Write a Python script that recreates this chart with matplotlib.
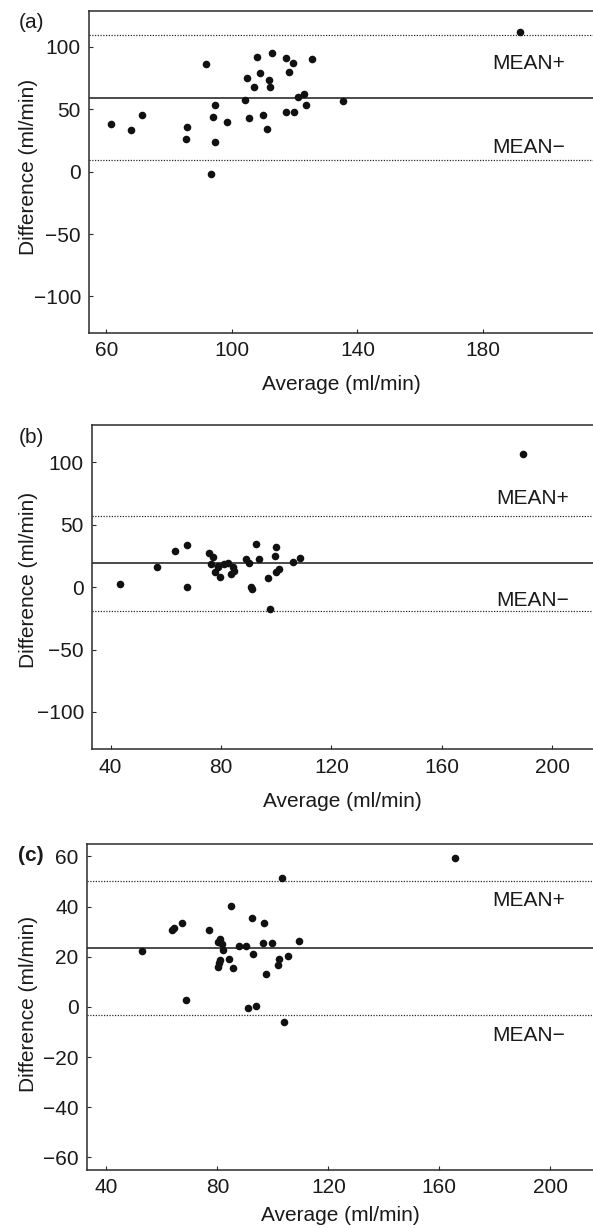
"""
Bland-Altman plots for three flow measurement comparisons.
Saves out.png (593x1228 px).
"""

import matplotlib.pyplot as plt

plt.rcParams["font.family"] = ["Liberation Sans", "DejaVu Sans"]

# ── Data ─────────────────────────────────────────────────────
# (a)
a_avg = [61.4, 68.0, 71.4, 85.3, 85.8, 91.9, 93.3, 93.9, 94.5, 94.7, 98.3,
         104.2, 104.8, 105.5, 107.0, 108.1, 109.0, 109.8, 111.2, 111.8, 112.2,
         112.7, 117.1, 117.2, 118.1, 119.5, 119.8, 121.2, 122.9, 123.5, 125.5,
         135.3, 191.9]
a_diff = [38.0, 33.7, 45.2, 26.2, 35.8, 86.1, -1.9, 44.1, 53.7, 23.5, 39.8,
          57.8, 74.9, 43.0, 68.2, 92.2, 79.1, 45.2, 34.5, 73.3, 67.6,
          94.9, 91.2, 48.1, 79.7, 87.2, 47.9, 60.2, 62.3, 53.7, 90.4,
          56.4, 112.0]
a_mean, a_lo, a_hi = 59.3, 9.1, 109.6

# (b)
b_avg = [43.4, 57.0, 63.2, 67.7, 67.7, 75.5, 77.1, 76.5, 77.9, 79.1, 79.5,
         79.0, 81.2, 82.4, 83.6, 84.2, 84.8, 89.2, 90.0, 91.0, 91.2, 92.7,
         93.9, 96.9, 97.9, 99.6, 99.9, 99.9, 100.9, 106.0, 108.5, 189.4]
b_diff = [2.4, 16.3, 28.6, 33.6, 0.5, 27.2, 24.0, 18.4, 12.5, 17.1, 8.5,
          16.0, 18.4, 19.2, 10.7, 16.0, 13.3, 22.4, 19.2, 0.3, -1.6, 34.7,
          22.4, 7.7, -17.8, 25.1, 32.0, 12.5, 14.7, 20.0, 23.5, 106.5]
b_mean, b_lo, b_hi = 19.3, -19.2, 57.4

# (c)
c_avg = [52.7, 63.5, 64.2, 67.2, 68.7, 76.8, 80.1, 80.8, 81.7, 82.2, 80.3,
         80.6, 80.8, 84.3, 84.9, 85.5, 87.9, 90.2, 91.0, 92.6, 92.7, 93.9,
         96.5, 96.9, 97.4, 99.6, 101.7, 102.2, 103.4, 103.9, 105.6, 109.5,
         165.5]
c_diff = [22.1, 30.6, 31.5, 33.4, 2.8, 30.7, 26.0, 27.1, 25.1, 22.7, 15.8,
          17.4, 18.7, 19.1, 40.4, 15.4, 24.4, 24.4, -0.6, 35.3, 21.0, 0.5,
          25.6, 33.4, 13.3, 25.6, 16.5, 19.0, 51.2, -5.9, 20.3, 26.4,
          59.3]
c_mean, c_lo, c_hi = 23.4, -3.3, 50.1

panels = [
    ("(a)", "normal", a_avg, a_diff, a_mean, a_lo, a_hi,
     (54.6, 215.0), (-129, 129), [60, 100, 140, 180], [-100, -50, 0, 50, 100],
     [0.1506, 0.7291, 0.8494, 0.2622], 183.0, 87.0, 19.3, 11, (-0.102, 0.515)),
    ("(b)", "normal", b_avg, b_diff, b_mean, b_lo, b_hi,
     (33.4, 214.8), (-130, 130), [40, 80, 120, 160, 200], [-100, -50, 0, 50, 100],
     [0.1557, 0.3898, 0.8443, 0.2641], 179.6, 70.7, -10.9, 11, (-0.109, 0.522)),
    ("(c)", "bold", c_avg, c_diff, c_mean, c_lo, c_hi,
     (33.0, 215.4), (-65, 65), [40, 80, 120, 160, 200], [-60, -40, -20, 0, 20, 40, 60],
     [0.1467, 0.0472, 0.8533, 0.2657], 179.2, 42.4, -11.2, 6, (-0.097, 0.509)),
]

# ── Plot ─────────────────────────────────────────────────────
fig = plt.figure(figsize=(5.93, 12.28), dpi=100)
FS = 15
DARK = "#2b2b2b"
TXT = "#1a1a1a"

for (tag, weight, xs, ys, mean, lo, hi, xlim, ylim, xt, yt,
     rect, tx, ty_hi, ty_lo, xpad, ylab_xy) in panels:
    ax = fig.add_axes(rect)
    ax.axhline(mean, color=DARK, linewidth=1.2)
    ax.axhline(hi, color=DARK, linewidth=0.9, linestyle=(0, (1, 1.2)))
    ax.axhline(lo, color=DARK, linewidth=0.9, linestyle=(0, (1, 1.2)))
    ax.scatter(xs, ys, s=30, color="#111111", zorder=3, linewidths=0)

    ax.set_xlim(*xlim)
    ax.set_ylim(*ylim)
    ax.set_xticks(xt)
    ax.set_yticks(yt)
    ax.tick_params(direction="in", length=3, width=0.8, color=DARK,
                   labelsize=FS, labelcolor=TXT, pad=6)
    for side in ["left", "bottom", "top"]:
        ax.spines[side].set_color(DARK)
        ax.spines[side].set_linewidth(1.1)
    ax.spines["right"].set_visible(False)

    ax.set_xlabel("Average (ml/min)", fontsize=FS, color=TXT, labelpad=xpad)
    ax.set_ylabel("Difference (ml/min)", fontsize=FS, color=TXT)
    ax.yaxis.set_label_coords(*ylab_xy)

    ax.text(tx, ty_hi, "MEAN+", fontsize=FS, color=TXT, ha="left", va="center")
    ax.text(tx, ty_lo, "MEAN\u2212", fontsize=FS, color=TXT, ha="left", va="center")

    # panel tag, placed in figure pixels
    fx = 31 / 593
    fy = rect[1] + rect[3] - 12 / 1228
    fig.text(fx, fy, tag, fontsize=FS, fontweight=weight, color=TXT,
             ha="center", va="center")

plt.savefig("out.png", dpi=100)
